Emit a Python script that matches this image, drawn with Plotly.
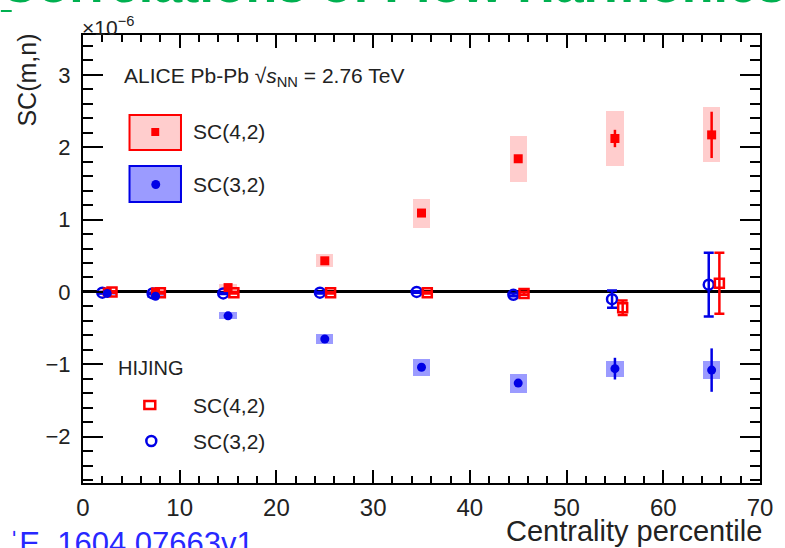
import plotly.graph_objects as go

# ---------------- data ----------------
cent = [2.5, 7.5, 15, 25, 35, 45, 55, 65]
sc42 = [0.0, 0.0, 0.06, 0.43, 1.09, 1.84, 2.12, 2.17]
sc42_stat = [0.01, 0.01, 0.02, 0.03, 0.04, 0.05, 0.12, 0.32]
sc42_sys = [0.03, 0.03, 0.05, 0.09, 0.20, 0.32, 0.38, 0.38]
sc32 = [-0.02, -0.06, -0.33, -0.65, -1.04, -1.26, -1.06, -1.08]
sc32_stat = [0.01, 0.01, 0.02, 0.03, 0.04, 0.05, 0.15, 0.30]
sc32_sys = [0.02, 0.03, 0.05, 0.07, 0.12, 0.13, 0.11, 0.12]

hij42_x = [3.0, 8.0, 15.6, 25.6, 35.6, 45.6, 55.8, 65.8]
hij42 = [0.0, -0.01, -0.01, -0.01, -0.01, -0.02, -0.22, 0.12]
hij42_err = [0.01, 0.01, 0.01, 0.01, 0.01, 0.02, 0.10, 0.42]
hij32_x = [2.0, 7.2, 14.5, 24.5, 34.5, 44.5, 54.7, 64.7]
hij32 = [-0.01, -0.02, -0.02, -0.01, 0.0, -0.04, -0.10, 0.10]
hij32_err = [0.01, 0.01, 0.01, 0.01, 0.01, 0.02, 0.12, 0.44]

x_ticks = [0, 10, 20, 30, 40, 50, 60, 70]
y_ticks = [-2, -1, 0, 1, 2, 3]

RED = "rgb(255,0,0)"
BLUE = "rgb(0,0,230)"
FONT = "Liberation Sans, Arial, sans-serif"

fig = go.Figure()

# systematic boxes
fig.add_trace(go.Bar(x=cent, y=[2 * s for s in sc42_sys],
                     base=[v - s for v, s in zip(sc42, sc42_sys)],
                     width=1.8, marker=dict(color="rgb(255,205,205)", line=dict(width=0)),
                     showlegend=False, hoverinfo="skip"))
fig.add_trace(go.Bar(x=cent, y=[2 * s for s in sc32_sys],
                     base=[v - s for v, s in zip(sc32, sc32_sys)],
                     width=1.8, marker=dict(color="rgb(155,155,255)", line=dict(width=0)),
                     showlegend=False, hoverinfo="skip"))

# HIJING
fig.add_trace(go.Scatter(x=hij32_x, y=hij32, mode="markers",
                         marker=dict(symbol="circle-open", size=10, color=BLUE, line=dict(width=2.5)),
                         error_y=dict(type="data", array=hij32_err, color=BLUE, thickness=2.5, width=5),
                         showlegend=False))
fig.add_trace(go.Scatter(x=hij42_x, y=hij42, mode="markers",
                         marker=dict(symbol="square-open", size=9, color=RED, line=dict(width=2.5)),
                         error_y=dict(type="data", array=hij42_err, color=RED, thickness=2.5, width=5),
                         showlegend=False))

# ALICE
fig.add_trace(go.Scatter(x=cent, y=sc42, mode="markers",
                         marker=dict(symbol="square", size=9, color=RED),
                         error_y=dict(type="data", array=sc42_stat, color=RED, thickness=2.5, width=0),
                         showlegend=False))
fig.add_trace(go.Scatter(x=cent, y=sc32, mode="markers",
                         marker=dict(symbol="circle", size=9, color=BLUE),
                         error_y=dict(type="data", array=sc32_stat, color=BLUE, thickness=2.5, width=0),
                         showlegend=False))

# plot area geometry in pixels (for paper-coordinate helpers of decorations)
L, R, T, B = 83, 767, 35, 483
W, H = R - L, B - T


def px(xp):
    return (xp - L) / W


def py(yp):
    return (B - yp) / H


shapes = []
annotations = []
txt = "#222222"
LEG = 21

# legend (ALICE)
annotations.append(dict(x=px(122), y=py(77), xref="paper", yref="paper", xanchor="left", yanchor="middle",
                        text="ALICE Pb-Pb \u221a<i>s</i><sub>NN</sub> = 2.76 TeV", showarrow=False,
                        font=dict(family=FONT, size=21, color=txt)))
shapes.append(dict(type="rect", xref="paper", yref="paper", x0=px(130), x1=px(182), y0=py(150), y1=py(115),
                   fillcolor="rgb(255,205,205)", line=dict(color=RED, width=2)))
shapes.append(dict(type="rect", xref="paper", yref="paper", x0=px(152), x1=px(160), y0=py(136), y1=py(128),
                   fillcolor=RED, line=dict(width=0)))
annotations.append(dict(x=px(192), y=py(132), xref="paper", yref="paper", xanchor="left", yanchor="middle",
                        text="SC(4,2)", showarrow=False, font=dict(family=FONT, size=LEG, color=txt)))
shapes.append(dict(type="rect", xref="paper", yref="paper", x0=px(130), x1=px(182), y0=py(202), y1=py(166),
                   fillcolor="rgb(155,155,255)", line=dict(color=BLUE, width=2)))
shapes.append(dict(type="circle", xref="paper", yref="paper", x0=px(152), x1=px(161), y0=py(189), y1=py(180),
                   fillcolor=BLUE, line=dict(width=0)))
annotations.append(dict(x=px(192), y=py(184), xref="paper", yref="paper", xanchor="left", yanchor="middle",
                        text="SC(3,2)", showarrow=False, font=dict(family=FONT, size=LEG, color=txt)))

# legend (HIJING)
annotations.append(dict(x=px(116), y=py(368), xref="paper", yref="paper", xanchor="left", yanchor="middle",
                        text="HIJING", showarrow=False, font=dict(family=FONT, size=LEG - 1, color=txt)))
shapes.append(dict(type="rect", xref="paper", yref="paper", x0=px(145), x1=px(156), y0=py(409), y1=py(401),
                   fillcolor="white", line=dict(color=RED, width=2.5)))
annotations.append(dict(x=px(192), y=py(405), xref="paper", yref="paper", xanchor="left", yanchor="middle",
                        text="SC(4,2)", showarrow=False, font=dict(family=FONT, size=LEG, color=txt)))
shapes.append(dict(type="circle", xref="paper", yref="paper", x0=px(147), x1=px(157), y0=py(446), y1=py(436),
                   fillcolor="white", line=dict(color=BLUE, width=2.5)))
annotations.append(dict(x=px(192), y=py(441), xref="paper", yref="paper", xanchor="left", yanchor="middle",
                        text="SC(3,2)", showarrow=False, font=dict(family=FONT, size=LEG, color=txt)))

# exponent label
annotations.append(dict(x=px(80), y=py(26), xref="paper", yref="paper", xanchor="left", yanchor="middle",
                        text="\u00d710<sup>\u22126</sup>", showarrow=False,
                        font=dict(family=FONT, size=21, color=txt)))
# axis titles
annotations.append(dict(x=px(26), y=py(80), xref="paper", yref="paper", xanchor="center", yanchor="middle",
                        text="SC(m,n)", textangle=-90, showarrow=False,
                        font=dict(family=FONT, size=25, color=txt)))
annotations.append(dict(x=px(771), y=py(531), xref="paper", yref="paper", xanchor="right", yanchor="middle",
                        text="Centrality percentile", showarrow=False,
                        font=dict(family=FONT, size=29, color=txt)))

# slide fragments
annotations.append(dict(x=px(-3), y=py(15), xref="paper", yref="paper", xanchor="left", yanchor="bottom",
                        text="<b>Correlations of Flow Harmonics</b>", showarrow=False,
                        font=dict(family=FONT, size=52, color="#00b050")))
shapes.append(dict(type="line", xref="paper", yref="paper", x0=px(0), x1=px(11), y0=py(11), y1=py(11),
                   line=dict(color="#00b050", width=2)))
annotations.append(dict(x=px(6), y=py(524), xref="paper", yref="paper", xanchor="left", yanchor="top",
                        text="\u02c8E  1604.07663v1", showarrow=False,
                        font=dict(family=FONT, size=31, color="rgb(40,40,255)")))

axis_common = dict(showline=True, linecolor="black", linewidth=2, mirror="allticks",
                   ticks="inside", tickcolor="black", showgrid=False)

fig.update_layout(
    width=785, height=548,
    margin=dict(l=L, r=785 - R, t=T, b=548 - B),
    paper_bgcolor="white", plot_bgcolor="white",
    barmode="overlay", bargap=0,
    showlegend=False,
    shapes=shapes, annotations=annotations,
    xaxis=dict(range=[0, 70], tickvals=x_ticks, ticklen=13, tickwidth=1.5,
               minor=dict(dtick=2, ticklen=7, ticks="inside", tickcolor="black", tickwidth=1.5),
               zeroline=False, ticklabelstandoff=2,
               tickfont=dict(family=FONT, size=24, color=txt), **axis_common),
    yaxis=dict(range=[-2.64, 3.55], tickvals=y_ticks, ticklen=20, tickwidth=1.5,
               minor=dict(dtick=0.2, ticklen=10, ticks="inside", tickcolor="black", tickwidth=1.5),
               zeroline=True, zerolinecolor="black", zerolinewidth=2.5, ticklabelstandoff=6,
               tickfont=dict(family=FONT, size=22, color=txt), **axis_common),
)

fig.write_html("out.html")
